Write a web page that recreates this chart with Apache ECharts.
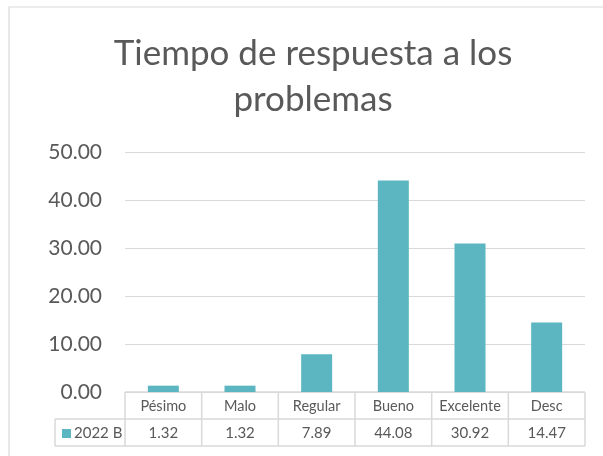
<!DOCTYPE html>
<html>
<head>
<meta charset="utf-8">
<script src="https://cdn.jsdelivr.net/npm/echarts@6/dist/echarts.min.js"></script>
<style>
html,body{margin:0;padding:0;background:#fff;}
#c{width:603px;height:456px;}
</style>
</head>
<body>
<div id="c"></div>
<script>
const titleText = 'Tiempo de respuesta a los\nproblemas';
const categories = ['Pésimo', 'Malo', 'Regular', 'Bueno', 'Excelente', 'Desc'];
const seriesName = '2022 B';
const values = [1.32, 1.32, 7.89, 44.08, 30.92, 14.47];
const yMin = 0, yMax = 50, yStep = 10;

const FONT = 'Lato';
const TXT = '#595959';
const LINE = '#d9d9d9';
const BAR = '#5bb6c1';

const chart = echarts.init(document.getElementById('c'), null, {renderer: 'canvas'});
const option = {
  animation: false,
  backgroundColor: '#fff',
  grid: {left: 125, right: 18, top: 152, bottom: 64},
  xAxis: {
    type: 'category',
    data: categories,
    axisLine: {show: false},
    axisTick: {show: false},
    axisLabel: {show: false}
  },
  yAxis: {
    type: 'value',
    min: yMin, max: yMax, interval: yStep,
    axisLine: {show: false},
    axisTick: {show: false},
    axisLabel: {
      formatter: v => v.toFixed(2),
      fontFamily: FONT, fontSize: 21, color: TXT, margin: 23
    },
    splitLine: {lineStyle: {color: LINE, width: 1}}
  },
  series: [{
    name: seriesName,
    type: 'bar',
    data: values,
    barWidth: 31,
    itemStyle: {color: BAR}
  }]
};
chart.setOption(option);

(function () {
  const centers = categories.map((c, i) => chart.convertToPixel({xAxisIndex: 0}, i));
  const step = centers.length > 1 ? centers[1] - centers[0] : 76;
  const tLeft = centers[0] - step / 2;
  const tRight = centers[centers.length - 1] + step / 2;
  const tTop = chart.convertToPixel({yAxisIndex: 0}, yMin);
  const rowH = 27;
  const legLeft = 55;
  const els = [];
  const ls = {stroke: LINE, lineWidth: 1.5};
  els.push({type: 'rect', shape: {x: 9, y: 7, width: 700, height: 600}, style: {fill: 'none', stroke: LINE, lineWidth: 1.2}, silent: true});
  els.push({type: 'text', x: 313, y: 31, style: {text: titleText, fontFamily: FONT, fontSize: 35, lineHeight: 46, fill: TXT, align: 'center', verticalAlign: 'top'}});
  els.push({type: 'line', shape: {x1: tLeft, y1: tTop, x2: tRight, y2: tTop}, style: ls});
  els.push({type: 'line', shape: {x1: legLeft, y1: tTop + rowH, x2: tRight, y2: tTop + rowH}, style: ls});
  els.push({type: 'line', shape: {x1: legLeft, y1: tTop + 2 * rowH, x2: tRight, y2: tTop + 2 * rowH}, style: ls});
  els.push({type: 'line', shape: {x1: legLeft, y1: tTop + rowH, x2: legLeft, y2: tTop + 2 * rowH}, style: ls});
  for (let i = 0; i <= categories.length; i++) {
    const x = tLeft + i * step;
    els.push({type: 'line', shape: {x1: x, y1: tTop, x2: x, y2: tTop + 2 * rowH}, style: ls});
  }
  categories.forEach((c, i) => {
    els.push({type: 'text', x: centers[i], y: tTop + rowH / 2 + 1, style: {text: c, fontFamily: FONT, fontSize: 14.5, fill: TXT, align: 'center', verticalAlign: 'middle'}});
    els.push({type: 'text', x: centers[i], y: tTop + rowH * 1.5 + 1, style: {text: values[i].toFixed(2), fontFamily: FONT, fontSize: 15, fill: TXT, align: 'center', verticalAlign: 'middle'}});
  });
  els.push({type: 'rect', shape: {x: 62, y: tTop + rowH + 10, width: 9, height: 9}, style: {fill: BAR}});
  els.push({type: 'text', x: 74, y: tTop + rowH * 1.5 + 1, style: {text: seriesName, fontFamily: FONT, fontSize: 15, fill: TXT, align: 'left', verticalAlign: 'middle'}});
  chart.setOption({graphic: {elements: els}});
})();
</script>
</body>
</html>
